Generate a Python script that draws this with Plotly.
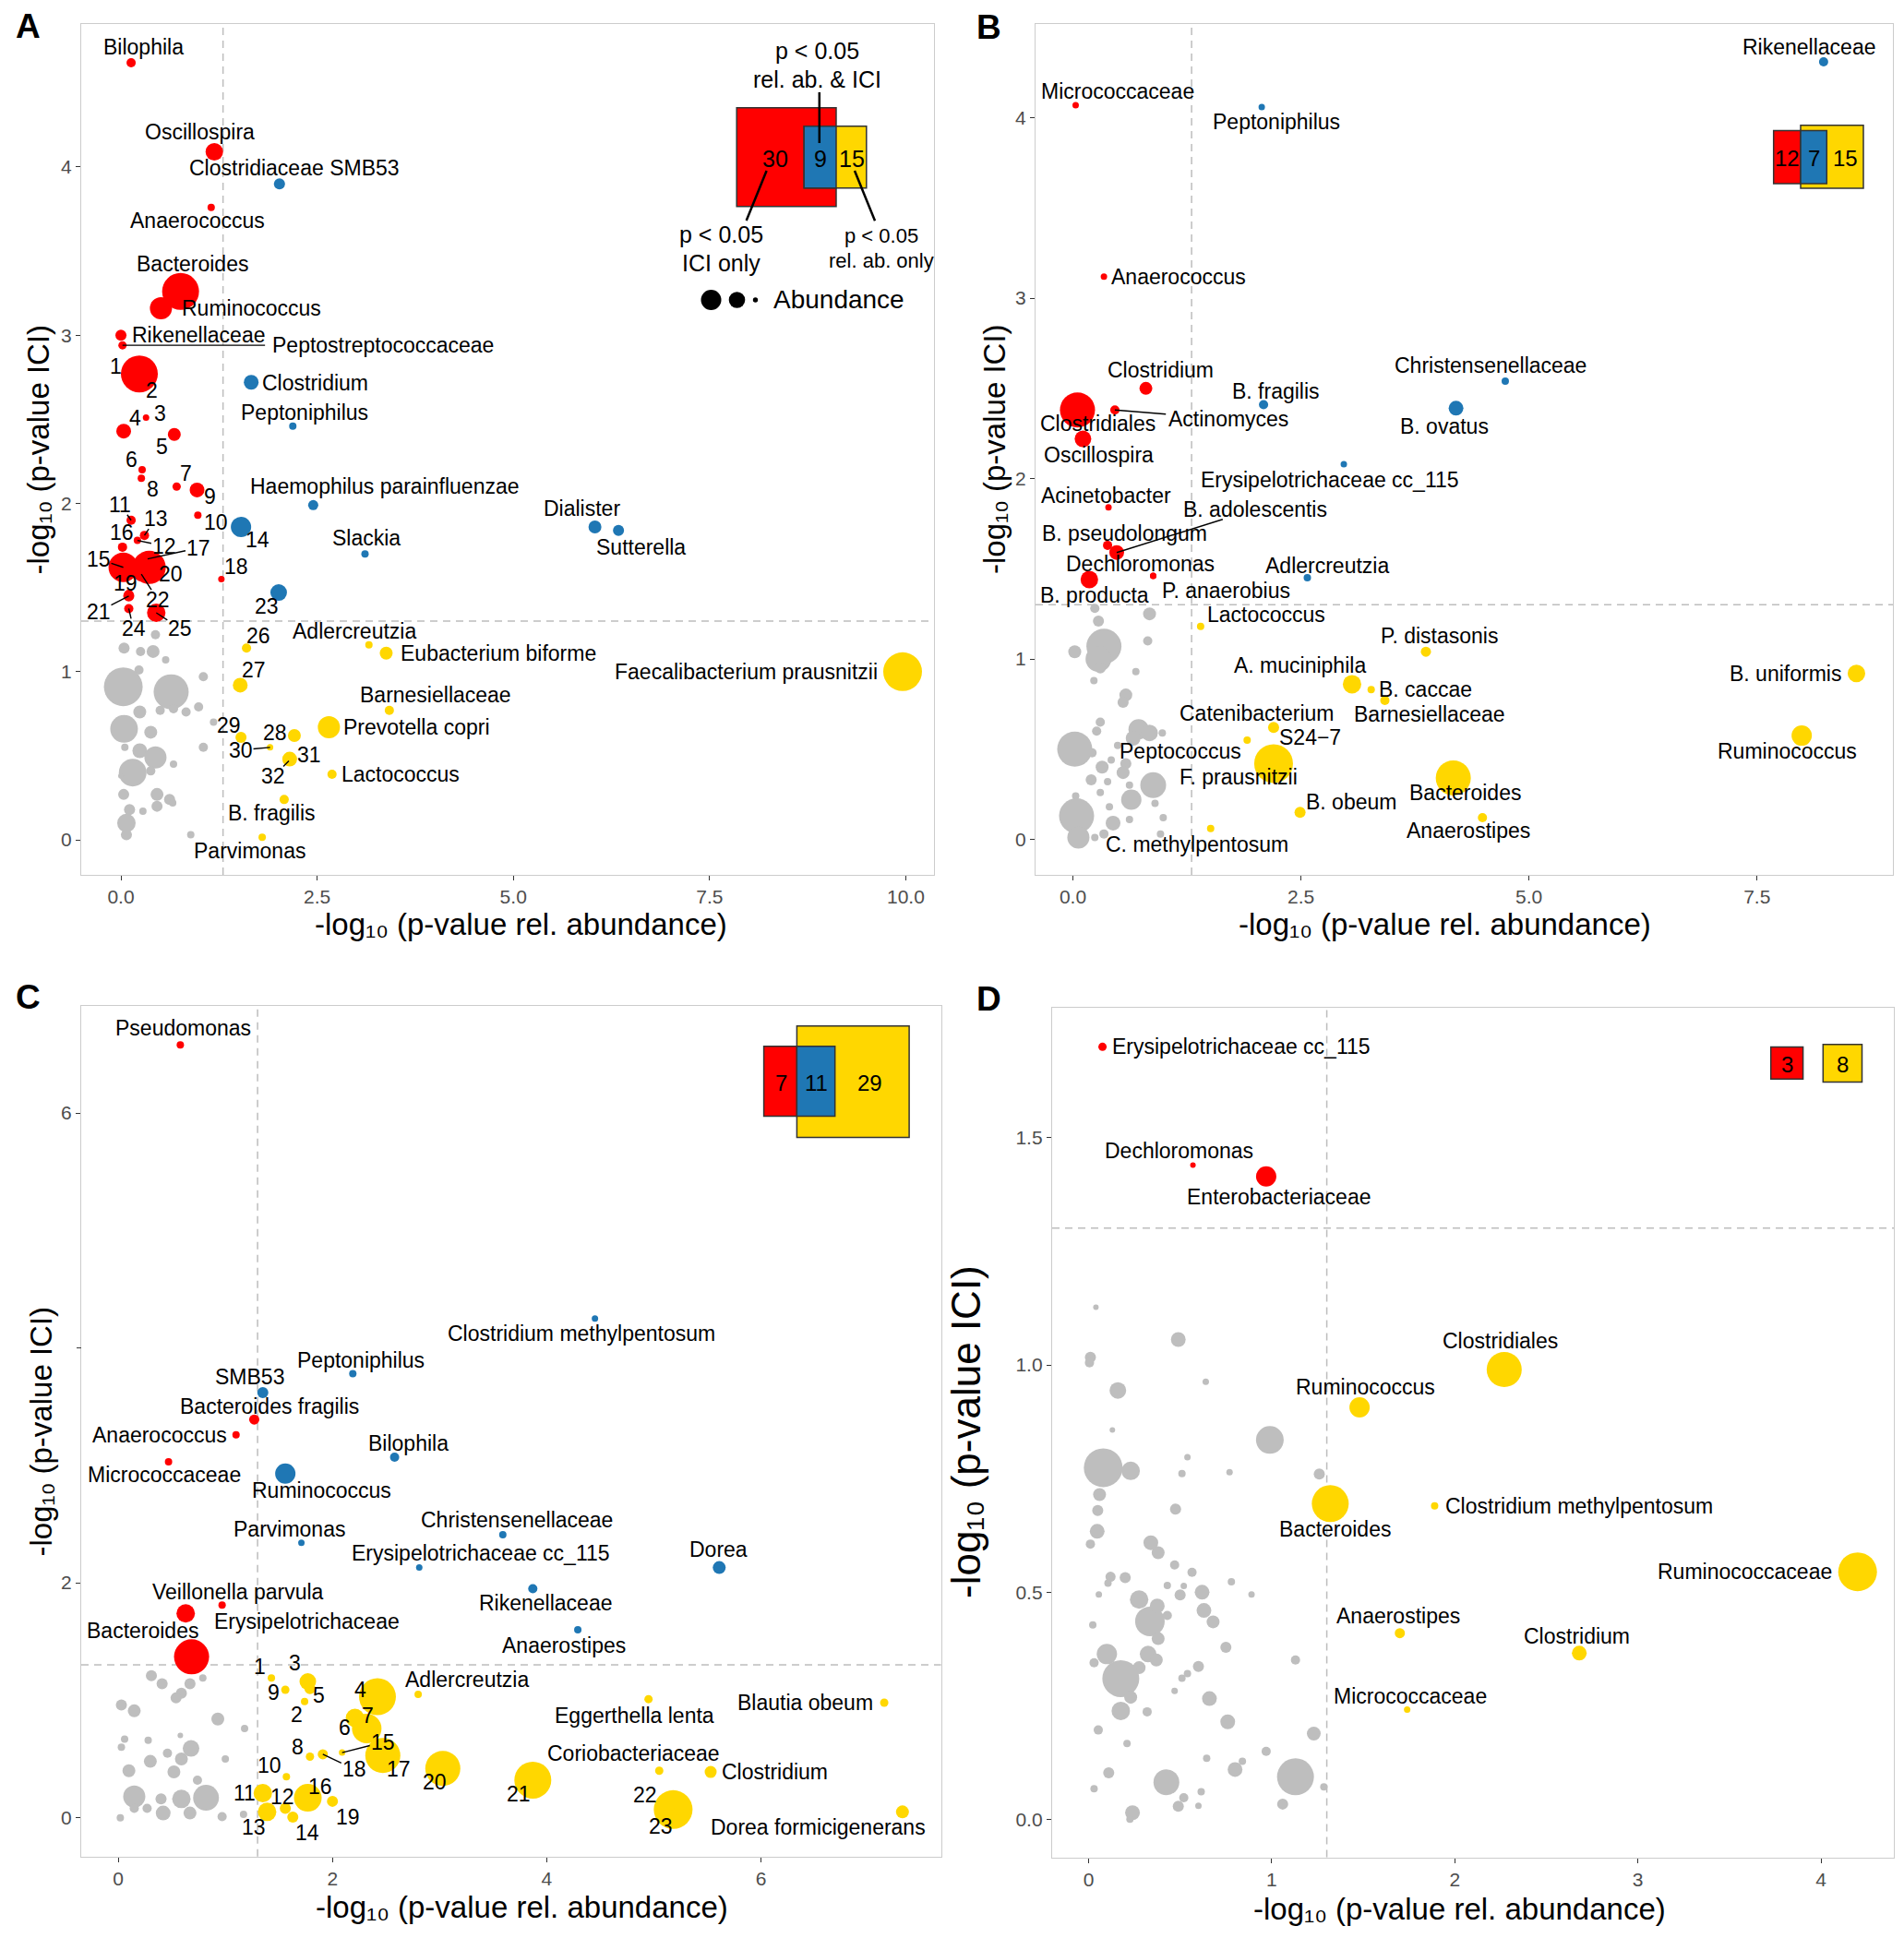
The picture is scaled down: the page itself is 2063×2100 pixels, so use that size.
import plotly.graph_objects as go

FONT = "Liberation Sans, Arial, Helvetica, sans-serif"
# page geometry: the page body has an 8 px margin, so the figure is 16 px smaller than the window
PAGE_OFF = 8
W, H = 2063 - 2 * PAGE_OFF, 2100 - 2 * PAGE_OFF
RED, BLUE, YEL, GRAY = "#FF0000", "#1F77B4", "#FFD700", "#BEBEBE"
COLS = {"r": RED, "b": BLUE, "y": YEL}

# ---------------- Panel A data ----------------
a_names = ["Bilophila", "Oscillospira", "Clostridiaceae SMB53", "Anaerococcus", "Bacteroides", "Ruminococcus",
           "Rikenellaceae", "Peptostreptococcaceae", "1", "2", "Clostridium", "Peptoniphilus", "3", "4", "5", "6",
           "8", "7", "9", "Haemophilus parainfluenzae", "10", "11", "14", "13", "12", "16", "Slackia", "15", "17",
           "20", "22", "18", "19", "21", "24", "23", "25", "Dialister", "Sutterella", "26", "Adlercreutzia",
           "Eubacterium biforme", "27", "Barnesiellaceae", "Prevotella copri", "29", "28", "30", "31", "32",
           "Lactococcus", "B. fragilis", "Parvimonas", "Faecalibacterium prausnitzii"]
a_x = [0.13, 1.19, 2.02, 1.15, 0.76, 0.51, 0.00, 0.02, 0.235, 0.26, 1.66, 2.19, 0.32, 0.035, 0.68, 0.27,
       0.26, 0.71, 0.97, 2.45, 0.98, 0.13, 1.53, 0.30, 0.21, 0.02, 3.11, 0.03, 0.34, 0.36, 0.26, 1.28, 0.10,
       0.10, 0.10, 2.01, 0.45, 6.04, 6.34, 1.60, 3.16, 3.38, 1.52, 3.42, 2.65, 1.53, 2.21, 1.90, 2.15, 2.14,
       2.69, 2.08, 1.80, 9.96]
a_y = [4.62, 4.09, 3.90, 3.76, 3.26, 3.16, 3.00, 2.94, 2.77, 2.74, 2.72, 2.46, 2.51, 2.43, 2.41, 2.20,
       2.15, 2.10, 2.08, 1.99, 1.93, 1.90, 1.86, 1.81, 1.78, 1.74, 1.70, 1.62, 1.67, 1.62, 1.58, 1.55, 1.46,
       1.45, 1.375, 1.47, 1.35, 1.86, 1.84, 1.14, 1.16, 1.11, 0.92, 0.77, 0.67, 0.61, 0.62, 0.55, 0.48, 0.47,
       0.39, 0.24, 0.015, 1.00]
a_abund = [5, 9.5, 6, 4, 20, 12, 6, 4.5, 20, 6, 8, 4, 3.5, 8, 7, 4, 4, 4.5, 8, 5.5, 4, 5, 11, 5, 4, 5, 4, 16,
           6, 18, 8, 3.5, 5, 6, 5, 9, 10, 7, 6, 5, 4, 7, 8, 5, 12, 6, 7, 3.5, 8, 4, 5, 5, 4, 21]
a_group = ["r", "r", "b", "r", "r", "r", "r", "r", "r", "r", "b", "b", "r", "r", "r", "r", "r", "r", "r", "b",
           "r", "r", "b", "r", "r", "r", "b", "r", "r", "r", "r", "r", "r", "r", "r", "b", "r", "b", "b", "y",
           "y", "y", "y", "y", "y", "y", "y", "y", "y", "y", "y", "y", "y", "y"]
a_gray_x = [0.44, 0.04, 0.25, 0.41, 0.57, 0.23, 0.03, 0.64, 1.05, 0.99, 0.83, 0.24, 0.50, 0.67, 0.04, 0.38,
            1.18, 1.05, 0.05, 0.24, 0.44, 0.15, 0.38, 0.67, 0.00, 0.035, 0.46, 0.62, 0.66, 0.46, 0.28, 0.11,
            0.07, 0.07, 0.89]
a_gray_y = [1.22, 1.14, 1.12, 1.12, 1.07, 1.01, 0.91, 0.88, 0.97, 0.79, 0.76, 0.76, 0.77, 0.78, 0.66, 0.64,
            0.70, 0.55, 0.55, 0.53, 0.49, 0.40, 0.41, 0.45, 0.38, 0.27, 0.27, 0.24, 0.22, 0.20, 0.17, 0.18,
            0.10, 0.03, 0.03]
a_gray_abund = [5, 6, 5, 7, 4, 5, 21, 19, 5, 5, 5, 7, 5, 5, 15, 7, 4, 5, 4, 8, 12, 15, 5, 4, 3, 6, 7, 6, 4,
                6, 4, 6, 10, 6, 4]
a_venn = [30, 9, 15]

# ---------------- Panel B data ----------------
b_names = ["Micrococcaceae", "Anaerococcus", "Clostridium", "Clostridiales", "Actinomyces", "Oscillospira",
           "Acinetobacter", "B. pseudolongum", "B. adolescentis", "Dechloromonas", "B. producta", "P. anaerobius",
           "Rikenellaceae", "Peptoniphilus", "B. fragilis", "B. ovatus", "Christensenellaceae",
           "Erysipelotrichaceae cc_115", "Adlercreutzia", "Lactococcus", "P. distasonis", "A. muciniphila",
           "B. caccae", "Barnesiellaceae", "Catenibacterium", "S24\u22127", "Peptococcus", "F. prausnitzii",
           "B. obeum", "Bacteroides", "Anaerostipes", "C. methylpentosum", "B. uniformis", "Ruminococcus"]
b_x = [0.03, 0.34, 0.80, 0.05, 0.46, 0.11, 0.39, 0.38, 0.48, 0.88, 0.18, 0.88, 8.23, 2.07, 2.09, 4.20, 4.74,
       2.97, 2.57, 1.40, 3.87, 3.06, 3.27, 3.42, 2.20, 2.22, 1.91, 2.20, 2.49, 4.17, 4.49, 1.51, 8.59, 7.99]
b_y = [4.07, 3.12, 2.50, 2.38, 2.38, 2.22, 1.84, 1.63, 1.59, 1.46, 1.44, 1.46, 4.31, 4.06, 2.41, 2.39, 2.54,
       2.08, 1.45, 1.18, 1.04, 0.86, 0.83, 0.77, 0.62, 0.50, 0.55, 0.42, 0.15, 0.34, 0.12, 0.06, 0.92, 0.575]
b_abund = [3.5, 3.5, 7, 19, 5, 9, 3.5, 5, 8, 3.5, 9.5, 3.5, 5, 3.5, 5, 8, 4, 3.5, 4, 4, 5.5, 10, 4, 5, 6, 4,
           4, 21, 6, 19, 5, 4, 9.5, 11]
b_group = ["r"] * 12 + ["b"] * 7 + ["y"] * 15
b_gray_x = [0.24, 0.84, 0.28, 0.34, 0.28, 0.02, 0.82, 0.30, 0.69, 0.23, 0.58, 0.55, 0.30, 0.26, 0.72, 0.84,
            0.98, 0.66, 0.02, 0.21, 0.32, 0.49, 0.42, 0.58, 0.55, 0.88, 0.20, 0.38, 0.30, 0.62, 0.64, 0.90,
            0.03, 0.04, 0.40, 0.44, 0.62, 0.99, 0.06, 0.24, 0.34, 0.96]
b_gray_y = [1.28, 1.25, 1.21, 1.07, 1.00, 1.04, 1.10, 0.95, 0.93, 0.88, 0.80, 0.76, 0.65, 0.60, 0.61, 0.59,
            0.59, 0.56, 0.50, 0.48, 0.40, 0.52, 0.44, 0.42, 0.37, 0.30, 0.33, 0.32, 0.26, 0.30, 0.22, 0.20,
            0.24, 0.13, 0.18, 0.09, 0.11, 0.12, 0.01, 0.01, 0.03, 0.03]
b_gray_abund = [5, 7, 6, 19, 14, 7, 5, 6, 4, 4, 7, 6, 5, 5, 11, 9, 4, 8, 19, 5, 7, 4, 4, 6, 7, 14, 6, 4, 4,
                4, 11, 4, 4, 19, 4, 8, 4, 4, 12, 4, 5, 4]
b_venn = [12, 7, 15]

# ---------------- Panel C data ----------------
c_names = ["Pseudomonas", "Bacteroides fragilis", "Anaerococcus", "Micrococcaceae", "Veillonella parvula",
           "Erysipelotrichaceae", "Bacteroides", "Clostridium methylpentosum", "Peptoniphilus", "SMB53",
           "Bilophila", "Ruminococcus", "Parvimonas", "Christensenellaceae", "Erysipelotrichaceae cc_115",
           "Dorea", "Rikenellaceae", "Anaerostipes", "1", "2", "3", "4", "5", "6", "7", "8", "9", "10", "11",
           "12", "13", "14", "15", "16", "17", "18", "19", "20", "21", "22", "23", "Adlercreutzia",
           "Eggerthella lenta", "Blautia obeum", "Coriobacteriaceae", "Clostridium", "Dorea formicigenerans"]
c_x = [0.58, 1.27, 1.10, 0.47, 0.97, 0.63, 0.685, 4.45, 2.19, 1.35, 2.58, 1.56, 1.71, 3.59, 2.81, 5.61, 3.87,
       4.29, 1.43, 1.74, 1.77, 2.42, 1.79, 2.21, 2.32, 1.79, 1.56, 1.57, 1.35, 1.56, 1.39, 1.63, 2.09, 1.77,
       2.47, 1.91, 2.00, 3.03, 3.87, 5.18, 5.20, 2.80, 4.95, 7.15, 5.05, 5.53, 7.32]
c_y = [6.58, 3.39, 3.26, 3.03, 1.81, 1.74, 1.37, 4.25, 3.78, 3.62, 3.07, 2.93, 2.34, 2.41, 2.13, 2.13, 1.95,
       1.60, 1.19, 0.99, 1.16, 1.03, 1.10, 0.85, 0.76, 0.52, 1.09, 0.35, 0.21, 0.08, 0.05, 0.005, 0.555,
       0.17, 0.53, 0.54, 0.14, 0.42, 0.32, 0.07, 0.05, 1.05, 1.01, 0.98, 0.40, 0.39, 0.05]
c_abund = [4, 5.5, 4, 4, 4, 10, 19, 3.5, 4, 6, 5, 11, 3.5, 4, 3.5, 7, 5, 4, 4, 4, 9, 20, 6, 10, 16, 4.5,
           4.5, 4, 10, 6, 10, 6, 3.5, 15, 19, 5.5, 6, 19, 20, 21, 4, 4, 4.5, 4.5, 4.5, 6.5, 7]
c_group = ["r"] * 7 + ["b"] * 11 + ["y"] * 29
c_gray_x = [0.31, 0.41, 0.67, 0.79, 0.59, 0.54, 0.03, 0.15, 0.93, 1.18, 0.06, 0.03, 0.28, 0.58, 0.68, 0.46,
            0.30, 0.59, 1.00, 0.10, 0.52, 0.74, 0.15, 0.40, 0.59, 0.82, 0.42, 0.67, 0.02, 0.15, 0.97, 1.17,
            0.27]
c_gray_y = [1.21, 1.14, 1.14, 1.19, 1.06, 1.02, 0.96, 0.91, 0.84, 0.76, 0.67, 0.60, 0.66, 0.70, 0.59, 0.55,
            0.48, 0.50, 0.50, 0.40, 0.39, 0.32, 0.18, 0.16, 0.16, 0.17, 0.04, 0.04, 0.00, 0.08, 0.01, 0.03,
            0.08]
c_gray_abund = [6, 6, 6, 4, 6, 6, 6, 7, 7, 4, 4, 4, 4, 3, 9, 5, 7, 7, 4, 7, 7, 5, 12, 6, 10, 14, 8, 7, 4, 5,
                5, 4, 5]
c_venn = [7, 11, 29]

# ---------------- Panel D data ----------------
d_names = ["Erysipelotrichaceae cc_115", "Dechloromonas", "Enterobacteriaceae", "Clostridiales", "Ruminococcus",
           "Bacteroides", "Clostridium methylpentosum", "Ruminococcaceae", "Anaerostipes", "Clostridium",
           "Micrococcaceae"]
d_x = [0.076, 0.57, 0.97, 2.27, 1.48, 1.32, 1.89, 4.20, 1.70, 2.68, 1.74]
d_y = [1.70, 1.44, 1.415, 0.99, 0.907, 0.695, 0.69, 0.545, 0.41, 0.366, 0.242]
d_abund = [4.5, 3, 11, 19, 11, 20, 4, 21, 5.5, 8, 3.5]
d_group = ["r"] * 3 + ["y"] * 8
d_gray_x = [0.04, 0.49, 0.01, 0.005, 0.64, 0.16, 0.13, 0.99, 0.08, 0.23, 0.54, 0.51, 0.77, 1.26, 0.06, 0.05,
            0.475, 0.047, 0.01, 0.34, 0.38, 0.47, 0.12, 0.565, 0.20, 0.106, 0.43, 0.52, 0.78, 0.056, 0.50,
            0.62, 0.89, 0.276, 0.335, 0.375, 0.43, 0.63, 0.68, 0.023, 0.38, 0.75, 0.10, 0.325, 0.37, 0.03,
            0.276, 0.60, 0.176, 0.54, 0.51, 1.13, 0.66, 0.23, 0.47, 0.176, 0.32, 0.76, 1.23, 0.053, 0.21,
            0.97, 0.645, 0.84, 0.80, 0.11, 1.13, 0.425, 0.03, 1.285, 0.52, 0.615, 0.49, 0.60, 1.06, 0.24,
            0.226]
d_gray_y = [1.127, 1.056, 1.017, 1.005, 0.963, 0.944, 0.857, 0.835, 0.774, 0.767, 0.797, 0.761, 0.764, 0.760,
            0.715, 0.68, 0.683, 0.634, 0.606, 0.609, 0.587, 0.56, 0.534, 0.544, 0.532, 0.52, 0.515, 0.514,
            0.523, 0.495, 0.494, 0.50, 0.495, 0.484, 0.436, 0.47, 0.449, 0.46, 0.435, 0.428, 0.398, 0.379,
            0.364, 0.364, 0.351, 0.345, 0.334, 0.337, 0.31, 0.321, 0.311, 0.351, 0.266, 0.269, 0.283, 0.239,
            0.237, 0.215, 0.189, 0.197, 0.167, 0.15, 0.135, 0.128, 0.11, 0.103, 0.094, 0.082, 0.068, 0.072,
            0.048, 0.061, 0.029, 0.03, 0.034, 0.015, 0.001]
d_gray_abund = [3, 8, 6, 5, 3.5, 9, 3, 15, 21, 10, 3.5, 4, 3.5, 6, 7, 6, 6, 8, 5, 8, 7, 5, 5.5, 5, 6, 4, 4,
                3.5, 4, 3.5, 6, 8, 3.5, 10, 16, 8, 5, 8, 7, 4, 7, 6, 11, 9, 7, 5, 7, 6, 20, 4, 4, 5, 8, 7,
                3.5, 10, 5, 8, 7.5, 5, 4, 5, 4, 4, 8, 6, 20, 14, 4, 4, 5, 4, 6, 3.5, 6, 8, 4]
d_venn = [3, 0, 8]

SIG = 1.301  # -log10(0.05)

# ---------------- label placement (pixel offsets: dx, dy-up, anchor, leader) ----------------
a_lab = {
    "Bilophila": (13, 17, "c", 0), "Oscillospira": (-16, 22, "c", 0), "Clostridiaceae SMB53": (16, 17, "c", 0),
    "Anaerococcus": (-15, -14, "c", 0), "Bacteroides": (13, 30, "c", 0), "Ruminococcus": (21, 0, "l", 0),
    "Rikenellaceae": (10, 0, "l", 0), "Peptostreptococcaceae": (282, 0, "c", 1), "1": (-26, 8, "c", 0),
    "2": (11, -12, "c", 0), "Clostridium": (10, -1, "l", 0), "Peptoniphilus": (13, 15, "c", 0),
    "3": (15, 5, "c", 0), "4": (12, 14, "c", 0), "5": (-13, -13, "c", 0), "6": (-11, 11, "c", 0),
    "8": (12, -12, "c", 0), "7": (10, 14, "c", 0), "9": (14, -7, "c", 0),
    "Haemophilus parainfluenzae": (78, 20, "c", 0), "10": (20, -8, "c", 0), "11": (-12, 17, "c", 1),
    "14": (18, -14, "c", 0), "13": (12, 18, "c", 1), "12": (29, -6, "c", 1), "16": (-1, 16, "c", 0),
    "Slackia": (2, 17, "c", 0), "15": (-27, 9, "c", 1), "17": (55, 12, "c", 1), "20": (23, -7, "c", 0),
    "22": (18, -28, "c", 1), "18": (16, 14, "c", 0), "19": (-4, 12, "c", 0), "21": (-33, -17, "c", 1),
    "24": (5, -22, "c", 1), "23": (-13, -15, "c", 0), "25": (26, -17, "c", 1), "Dialister": (-14, 20, "c", 0),
    "Sutterella": (24, -18, "c", 0), "26": (13, 13, "c", 0), "Adlercreutzia": (-16, 15, "c", 0),
    "Eubacterium biforme": (14, 0, "l", 0), "27": (15, 16, "c", 0), "Barnesiellaceae": (50, 17, "c", 0),
    "Prevotella copri": (14, 0, "l", 0), "29": (-13, 13, "c", 0), "28": (-21, 3, "c", 0),
    "30": (-32, -3, "c", 1), "31": (21, 5, "c", 0), "32": (-17, -17, "c", 1), "Lactococcus": (8, 0, "l", 0),
    "B. fragilis": (-13, -15, "c", 0), "Parvimonas": (-14, -15, "c", 0),
    "Faecalibacterium prausnitzii": (-25, 0, "r", 0),
}
b_lab = {
    "Micrococcaceae": (46, 15, "c", 0), "Peptoniphilus": (16, -16, "c", 0), "Anaerococcus": (6, 0, "l", 0),
    "Clostridium": (16, 20, "c", 0), "Clostridiales": (22, -15, "c", 0), "Actinomyces": (123, -10, "c", 1),
    "Oscillospira": (17, -17, "c", 0), "B. fragilis": (13, 14, "c", 0), "B. ovatus": (-13, -20, "c", 0),
    "Christensenellaceae": (-16, 17, "c", 0), "Erysipelotrichaceae cc_115": (-15, -17, "c", 0),
    "Rikenellaceae": (-16, 16, "c", 0), "Acinetobacter": (-3, 13, "c", 0), "B. adolescentis": (150, 47, "c", 1),
    "B. pseudolongum": (18, 13, "c", 0), "Dechloromonas": (-14, 13, "c", 0), "B. producta": (6, -17, "c", 0),
    "P. anaerobius": (8, -16, "l", 0), "Adlercreutzia": (21, 13, "c", 0), "Lactococcus": (5, 13, "l", 0),
    "P. distasonis": (15, 17, "c", 0), "A. muciniphila": (-56, 20, "c", 0), "B. caccae": (6, 0, "l", 0),
    "Barnesiellaceae": (48, -15, "c", 0), "Catenibacterium": (-18, 15, "c", 0), "S24\u22127": (38, 13, "c", 0),
    "Peptococcus": (-72, -12, "c", 0), "F. prausnitzii": (-38, -15, "c", 0), "B. obeum": (55, 11, "c", 0),
    "Bacteroides": (13, -16, "c", 0), "Anaerostipes": (-15, -14, "c", 0), "C. methylpentosum": (-15, -17, "c", 0),
    "B. uniformis": (-14, 0, "r", 0), "Ruminococcus": (-16, -17, "c", 0),
}
c_lab = {
    "Pseudomonas": (3, 18, "c", 0), "Clostridium methylpentosum": (-15, -16, "c", 0),
    "Peptoniphilus": (9, 15, "c", 0), "SMB53": (-14, 17, "c", 0), "Bacteroides fragilis": (17, 14, "c", 0),
    "Anaerococcus": (-8, 0, "r", 0), "Bilophila": (15, 15, "c", 0), "Micrococcaceae": (-5, -14, "c", 0),
    "Ruminococcus": (39, -18, "c", 0), "Parvimonas": (-13, 15, "c", 0), "Christensenellaceae": (15, 16, "c", 0),
    "Erysipelotrichaceae cc_115": (67, 16, "c", 0), "Dorea": (-1, 20, "c", 0), "Rikenellaceae": (14, -15, "c", 0),
    "Anaerostipes": (-15, -17, "c", 0), "Veillonella parvula": (17, 14, "c", 0),
    "Erysipelotrichaceae": (29, -9, "l", 0), "Bacteroides": (-53, 28, "c", 0),
    "1": (-13, 12, "c", 0), "3": (-14, 20, "c", 0), "9": (-13, -3, "c", 0), "5": (10, -7, "c", 0),
    "2": (-9, -14, "c", 0), "4": (-18, 8, "c", 0), "7": (1, 14, "c", 0), "6": (-11, -10, "c", 0),
    "8": (-13, 11, "c", 0), "15": (44, 11, "c", 1), "18": (34, -16, "c", 1), "17": (17, -15, "c", 0),
    "20": (-9, -15, "c", 0), "21": (-15, -15, "c", 0), "22": (-30, 16, "c", 0), "23": (-16, -16, "c", 0),
    "10": (-18, 12, "c", 0), "11": (-20, 0, "c", 0), "12": (-3, 13, "c", 0), "13": (-14, -17, "c", 0),
    "14": (16, -17, "c", 0), "16": (13, 12, "c", 0), "19": (17, -17, "c", 0),
    "Adlercreutzia": (-16, 16, "l", 0), "Eggerthella lenta": (-15, -18, "c", 0), "Blautia obeum": (-10, 0, "r", 0),
    "Coriobacteriaceae": (-28, 19, "c", 0), "Clostridium": (10, 0, "l", 0),
    "Dorea formicigenerans": (-91, -17, "c", 0),
}
d_lab = {
    "Erysipelotrichaceae cc_115": (8, 0, "l", 0), "Dechloromonas": (-15, 15, "c", 0),
    "Enterobacteriaceae": (14, -22, "c", 0), "Clostridiales": (-4, 31, "c", 0), "Ruminococcus": (6, 22, "c", 0),
    "Bacteroides": (5, -28, "c", 0), "Clostridium methylpentosum": (10, 0, "l", 0),
    "Ruminococcaceae": (-26, 0, "r", 0), "Anaerostipes": (-2, 19, "c", 0), "Clostridium": (-3, 18, "c", 0),
    "Micrococcaceae": (3, 14, "c", 0),
}


def px(x):
    return (x - PAGE_OFF) / W


def py(y):
    return 1 - (y - PAGE_OFF) / H


panels = [
    dict(n=1, names=a_names, x=a_x, y=a_y, ab=a_abund, g=a_group, gx=a_gray_x, gy=a_gray_y, gab=a_gray_abund,
         lab=a_lab, xdom=(88, 1012), ydom=(26, 948), xr=[-0.506, 10.36], yr=[-0.208, 4.85],
         xt=[0, 2.5, 5, 7.5, 10], xtt=["0.0", "2.5", "5.0", "7.5", "10.0"], yt=[0, 1, 2, 3, 4],
         ytt=["0", "1", "2", "3", "4"], letter=("A", 30, 28.5), xtitle=(564, 1001), ytitle=(40.5, 487, 33)),
    dict(n=2, names=b_names, x=b_x, y=b_y, ab=b_abund, g=b_group, gx=b_gray_x, gy=b_gray_y, gab=b_gray_abund,
         lab=b_lab, xdom=(1122, 2051), ydom=(26, 948), xr=[-0.41, 8.99], yr=[-0.197, 4.52],
         xt=[0, 2.5, 5, 7.5], xtt=["0.0", "2.5", "5.0", "7.5"], yt=[0, 1, 2, 3, 4],
         ytt=["0", "1", "2", "3", "4"], letter=("B", 1071, 30), xtitle=(1565, 1001), ytitle=(1077, 487, 33)),
    dict(n=3, names=c_names, x=c_x, y=c_y, ab=c_abund, g=c_group, gx=c_gray_x, gy=c_gray_y, gab=c_gray_abund,
         lab=c_lab, xdom=(88, 1019.6), ydom=(1090.2, 2011.7), xr=[-0.345, 7.68], yr=[-0.33, 6.91],
         xt=[0, 2, 4, 6], xtt=["0", "2", "4", "6"], yt=[0, 2, 6], ytt=["0", "2", "6"],
         letter=("C", 30, 1080), xtitle=(565, 2066), ytitle=(43.5, 1551, 33)),
    dict(n=4, names=d_names, x=d_x, y=d_y, ab=d_abund, g=d_group, gx=d_gray_x, gy=d_gray_y, gab=d_gray_abund,
         lab=d_lab, xdom=(1140, 2052.4), ydom=(1091.5, 2012.5), xr=[-0.199, 4.40], yr=[-0.083, 1.787],
         xt=[0, 1, 2, 3, 4], xtt=["0", "1", "2", "3", "4"], yt=[0, 0.5, 1, 1.5],
         ytt=["0.0", "0.5", "1.0", "1.5"], letter=("D", 1071, 1082), xtitle=(1581, 2068), ytitle=(1046, 1552, 44)),
]

fig = go.Figure()
annotations = []
shapes = []
LSIZE = 23
LABEL_FONT = dict(family=FONT, size=LSIZE, color="black")
XT = "-log\u2081\u2080 (p-value rel. abundance)"
YT = "-log\u2081\u2080 (p-value ICI)"

for P in panels:
    n = P["n"]
    xa = "x" if n == 1 else f"x{n}"
    ya = "y" if n == 1 else f"y{n}"
    # gray (not significant)
    fig.add_trace(go.Scatter(x=P["gx"], y=P["gy"], mode="markers", xaxis=xa, yaxis=ya, showlegend=False,
                             hoverinfo="skip",
                             marker=dict(color=GRAY, size=[2 * v for v in P["gab"]], line=dict(width=0),
                                         opacity=1)))
    for grp in ["r", "b", "y"]:
        idx = [i for i, g in enumerate(P["g"]) if g == grp]
        if not idx:
            continue
        fig.add_trace(go.Scatter(x=[P["x"][i] for i in idx], y=[P["y"][i] for i in idx], mode="markers",
                                 xaxis=xa, yaxis=ya, showlegend=False,
                                 text=[P["names"][i] for i in idx], hoverinfo="text",
                                 marker=dict(color=COLS[grp], size=[2 * P["ab"][i] for i in idx],
                                             line=dict(width=0), opacity=1)))
    # labels
    for nm, x, y in zip(P["names"], P["x"], P["y"]):
        dx, dy, anc, arr = P["lab"][nm]
        annotations.append(dict(x=x, y=y, xref=xa, yref=ya, text=nm, showarrow=False, xshift=dx,
                                yshift=dy, xanchor={"c": "center", "l": "left", "r": "right"}[anc],
                                yanchor="middle", font=LABEL_FONT))
        if arr:
            # leader segment from the point to the edge of the label box
            hw = len(nm) * 0.26 * LSIZE + 2
            hh = 11
            tx = 1 - hw / abs(dx) if dx else -1
            ty = 1 - hh / abs(dy) if dy else -1
            t = max(0, tx, ty)
            shapes.append(dict(type="line", xref=xa, yref=ya, xsizemode="pixel", ysizemode="pixel",
                               xanchor=x, yanchor=y, x0=0, y0=0, x1=dx * t, y1=dy * t,
                               line=dict(color="black", width=1.4), layer="above"))
    # dashed significance lines
    shapes.append(dict(type="line", xref=xa, yref=f"{ya} domain", x0=SIG, x1=SIG, y0=0, y1=1, layer="below",
                       line=dict(color="#BDBDBD", width=1.5, dash="8px,6px")))
    shapes.append(dict(type="line", xref=f"{xa} domain", yref=ya, x0=0, x1=1, y0=SIG, y1=SIG, layer="below",
                       line=dict(color="#BDBDBD", width=1.5, dash="8px,6px")))
    # axes
    common = dict(showgrid=False, zeroline=False, showline=True, mirror=True, linecolor="#CCCCCC",
                  linewidth=1.3, ticks="outside", ticklen=5, tickwidth=1, tickcolor="#333333",
                  tickfont=dict(size=21, color="#4D4D4D", family=FONT))
    key = "" if n == 1 else str(n)
    fig.update_layout(**{
        f"xaxis{key}": dict(common, domain=[px(P["xdom"][0]), px(P["xdom"][1])], range=P["xr"],
                            tickvals=P["xt"], ticktext=P["xtt"], anchor=ya),
        f"yaxis{key}": dict(common, domain=[py(P["ydom"][1]), py(P["ydom"][0])], range=P["yr"],
                            tickvals=P["yt"], ticktext=P["ytt"], anchor=xa),
    })
    # titles and panel letters
    lt, lx, ly = P["letter"]
    annotations.append(dict(x=px(lx), y=py(ly), xref="paper", yref="paper", text=f"<b>{lt}</b>",
                            showarrow=False, xanchor="center", yanchor="middle",
                            font=dict(family=FONT, size=37, color="black")))
    tx_, ty_ = P["xtitle"]
    annotations.append(dict(x=px(tx_), y=py(ty_), xref="paper", yref="paper", text=XT, showarrow=False,
                            xanchor="center", yanchor="middle", font=dict(family=FONT, size=33, color="black")))
    ux, uy, us = P["ytitle"]
    annotations.append(dict(x=px(ux), y=py(uy), xref="paper", yref="paper", text=YT, showarrow=False,
                            textangle=-90, xanchor="center", yanchor="middle",
                            font=dict(family=FONT, size=us, color="black")))

# unlabeled tick mark at y = 4 in panel C (label hidden in the original)
shapes.append(dict(type="line", xref="x3 domain", yref="y3", xsizemode="pixel", xanchor=0, x0=-5, x1=0,
                   y0=4, y1=4, line=dict(color="#333333", width=1)))


# ---------------- Venn-style count boxes ----------------
def rect(x0, x1, y0, y1, color):
    shapes.append(dict(type="rect", xref="paper", yref="paper", x0=px(x0), x1=px(x1), y0=py(y1), y1=py(y0),
                       fillcolor=color, line=dict(color="#333333", width=1.5), layer="above"))


def ptext(x, y, t, size, anchor="center"):
    annotations.append(dict(x=px(x), y=py(y), xref="paper", yref="paper", text=t, showarrow=False,
                            xanchor=anchor, yanchor="middle", font=dict(family=FONT, size=size, color="black")))


def pline(x0, y0, x1, y1, w=2.5):
    shapes.append(dict(type="line", xref="paper", yref="paper", x0=px(x0), y0=py(y0), x1=px(x1), y1=py(y1),
                       line=dict(color="black", width=w), layer="above"))


# A
rect(798.2, 906, 116.7, 223.7, RED)
rect(871.2, 938.8, 136.7, 203.7, YEL)
rect(871.2, 906, 136.7, 203.7, BLUE)
ptext(839.8, 171.7, str(a_venn[0]), 25)
ptext(888.6, 171.7, str(a_venn[1]), 25)
ptext(922.6, 171.7, str(a_venn[2]), 25)
pline(887.8, 100, 887.8, 155)
pline(830.6, 185, 808.7, 239)
pline(926, 185, 948, 239.3)
ptext(885.4, 55, "p &lt; 0.05", 25)
ptext(885.4, 86, "rel. ab. &amp; ICI", 25)
ptext(781.3, 254, "p &lt; 0.05", 25)
ptext(781.3, 285, "ICI only", 25)
ptext(954.7, 256, "p &lt; 0.05", 22)
ptext(954.7, 283, "rel. ab. only", 22)
for cx, r in [(770.5, 11), (798.5, 8.8), (818.5, 2.7)]:
    shapes.append(dict(type="circle", xref="paper", yref="paper", x0=px(cx - r), x1=px(cx + r),
                       y0=py(325 + r), y1=py(325 - r), fillcolor="black", line=dict(width=0), layer="above"))
ptext(836.4, 325, "Abundance", 28, "left")

# B
rect(1921.7, 1979.3, 141.6, 199, RED)
rect(1951, 2019, 135.8, 204, YEL)
rect(1951, 1979.3, 141.6, 199, BLUE)
ptext(1936.3, 171, str(b_venn[0]), 24)
ptext(1965.2, 171, str(b_venn[1]), 24)
ptext(1999, 171, str(b_venn[2]), 24)

# C
rect(827.6, 904.7, 1133.7, 1209.6, RED)
rect(863.4, 985.1, 1111.8, 1232.4, YEL)
rect(863.4, 904.7, 1133.7, 1209.6, BLUE)
ptext(846.5, 1173, str(c_venn[0]), 24)
ptext(884, 1173, str(c_venn[1]), 24)
ptext(942, 1173, str(c_venn[2]), 24)

# D
rect(1918.7, 1953.6, 1134.4, 1169.2, RED)
rect(1975.3, 2017.5, 1131.7, 1172.6, YEL)
ptext(1936.2, 1153.8, str(d_venn[0]), 24)
ptext(1996.4, 1153.8, str(d_venn[2]), 24)

fig.update_layout(width=W, height=H, margin=dict(l=0, r=0, t=0, b=0), paper_bgcolor="white",
                  plot_bgcolor="white", annotations=annotations, shapes=shapes, showlegend=False,
                  font=dict(family=FONT))
fig.write_html("out.html")
